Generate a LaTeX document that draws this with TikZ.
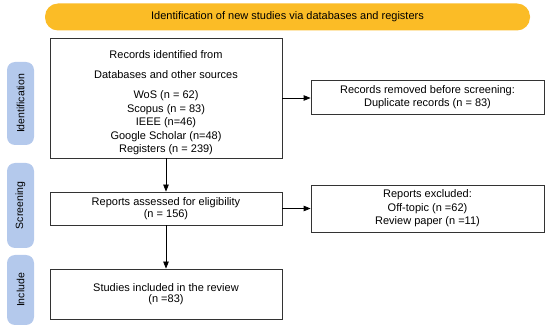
\documentclass[tikz,border=0pt]{standalone}
\usepackage{fontspec}
\setmainfont{Liberation Sans}
\usetikzlibrary{arrows.meta}
\definecolor{banner}{HTML}{FBBC26}
\definecolor{pill}{HTML}{B4C9EC}
\definecolor{edge}{HTML}{333333}
\begin{document}
\begin{tikzpicture}[x=1pt,y=-1pt,
  box/.style={draw=edge, line width=0.8pt, align=center, inner sep=0pt,
    font=\fontsize{11}{13.5}\selectfont},
  txt/.style={align=center, inner sep=0pt, font=\fontsize{11}{13.5}\selectfont},
  tight/.style={font=\fontsize{11}{11.5}\selectfont},
  phase/.style={fill=pill, rounded corners=8pt, minimum height=27pt, inner sep=0pt,
    rotate=90, font=\fontsize{10.5}{11}\selectfont},
  arr/.style={draw=black, line width=0.8pt, -{Triangle[length=7pt,width=5.5pt]}}]
\useasboundingbox (0,0) rectangle (550,334);
\node[fill=banner, rounded corners=13pt, minimum width=485pt, minimum height=27pt,
  inner sep=0pt, font=\fontsize{11}{12}\selectfont] (banner) at (287.5,17)
  {Identification of new studies via databases and registers};
\node[phase, minimum width=83pt] (pid) at (20.5,103.5) {Identification};
\node[phase, minimum width=85pt] (psc) at (20.5,205.5) {Screening};
\node[phase, minimum width=70pt] (pin) at (20.5,290) {Include};
\node[box, minimum width=232pt, minimum height=120pt] (records) at (166,98) {};
\node[txt] (recordstext) at (166,103)
  {Records identified from\\[6.5pt] Databases and other sources\\[6.5pt]
   WoS (n = 62)\\ Scopus (n = 83)\\ IEEE (n=46)\\ Google Scholar (n=48)\\ Registers (n = 239)};
\node[box, minimum width=233pt, minimum height=34pt] (removed) at (427.5,97)
  {Records removed before screening:\\ Duplicate records (n = 83)};
\node[box, tight, minimum width=232pt, minimum height=33pt] (reports) at (166,208.5)
  {Reports assessed for eligibility\\ (n = 156)};
\node[box, minimum width=233pt, minimum height=47pt] (excluded) at (427.5,208.5)
  {Reports excluded:\\ Off-topic (n =62)\\ Review paper (n =11)};
\node[box, tight, minimum width=232pt, minimum height=50pt] (studies) at (166,294)
  {Studies included in the review\\ (n =83)};
\draw[arr] (records.east) -- (records.east -| removed.west);
\draw[arr] (reports.east) -- (reports.east -| excluded.west);
\draw[arr] (records) -- (reports);
\draw[arr] (reports) -- (studies);
\end{tikzpicture}
\end{document}
